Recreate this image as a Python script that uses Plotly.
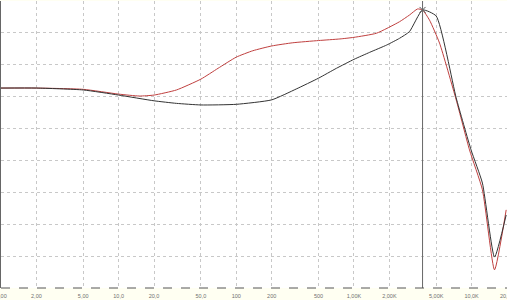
import plotly.graph_objects as go

# Frequencies (Hz) and levels (arbitrary dB-like units)
freq_black = [1, 2, 5, 10, 20, 31, 50, 100, 200, 323, 500, 710, 1000, 1360, 1900,
              2440, 2965, 3830, 5000, 7400, 9900, 12360, 15660, 19680]
level_black = [-27.3, -27.3, -27.9, -29.5, -31.3, -32.1, -32.6, -32.4, -31.0, -27.6,
               -24.2, -21.1, -18.3, -16.1, -13.8, -11.7, -9.6, -2.8, -4.7, -30.4,
               -46.7, -57.1, -80.3, -67.1]

freq_red = [1, 2, 5, 10, 15, 20, 31, 50, 70, 100, 138, 200, 302, 500, 760, 1000,
            1556, 2440, 2965, 3470, 3830, 4390, 5340, 7400, 9600, 12360, 15660, 19680]
level_red = [-27.3, -27.3, -27.7, -29.2, -29.8, -29.5, -27.9, -24.5, -21.1, -17.6,
             -15.6, -14.1, -13.1, -12.4, -11.9, -11.4, -10.1, -6.5, -4.4, -2.5,
             -2.8, -6.0, -13.2, -31.0, -46.7, -59.2, -84.3, -65.5]

cursor_freq = 3830
cursor_level = -2.8

tick_vals = [1, 2, 5, 10, 20, 50, 100, 200, 500, 1000, 2000, 5000, 10000, 20000]
tick_text = ["1,00", "2,00", "5,00", "10,0", "20,0", "50,0", "100", "200", "500",
             "1,00K", "2,00K", "5,00K", "10,0K", "20,0K"]

label_font = dict(family="Liberation Sans", size=5.5, color="#707070")

fig = go.Figure()
fig.add_trace(go.Scatter(x=freq_red, y=level_red, mode="lines",
                         line=dict(color="#c0403f", width=1, shape="spline", smoothing=0.5),
                         hoverinfo="skip"))
fig.add_trace(go.Scatter(x=freq_black, y=level_black, mode="lines",
                         line=dict(color="#333333", width=1, shape="spline", smoothing=0.5),
                         hoverinfo="skip"))
fig.add_trace(go.Scatter(x=[cursor_freq], y=[cursor_level], mode="markers",
                         marker=dict(symbol="x-thin", size=6,
                                     line=dict(color="#555555", width=1)),
                         hoverinfo="skip"))

fig.add_shape(type="line", xref="x", yref="paper", x0=cursor_freq, x1=cursor_freq,
              y0=0, y1=1, line=dict(color="#666666", width=1))
fig.add_shape(type="line", xref="paper", yref="paper", x0=0, x1=1, y0=0, y1=0,
              line=dict(color="#555555", width=1, dash="dash"))
# end tick labels sit on the edges, partly cut off as in the reference
for xp, txt in ((0, tick_text[0]), (1, tick_text[-1])):
    fig.add_annotation(x=xp, y=-0.012, xref="paper", yref="paper", text=txt,
                       showarrow=False, xanchor="center", yanchor="top", font=label_font)

fig.update_layout(
    width=507, height=300,
    margin=dict(l=1, r=0, t=1, b=12),
    paper_bgcolor="#fffff2",
    plot_bgcolor="#ffffff",
    showlegend=False,
    xaxis=dict(type="log", range=[0, 4.301], tickvals=tick_vals[1:-1], ticktext=tick_text[1:-1],
               showgrid=True, gridcolor="#c8c8c8", griddash="dot", gridwidth=1,
               ticks="", tickfont=label_font,
               showline=False, zeroline=False, ticklabelstandoff=3),
    yaxis=dict(range=[-90, 0], dtick=10, showticklabels=False,
               showgrid=True, gridcolor="#c8c8c8", griddash="dot", gridwidth=1,
               showline=True, linecolor="#666666", linewidth=2, zeroline=False,
               ticks=""),
)

fig.write_html("out.html")
